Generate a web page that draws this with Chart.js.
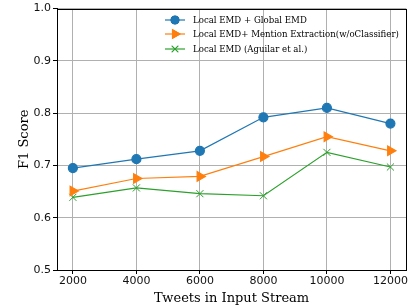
<!DOCTYPE html>
<html>
<head>
<meta charset="utf-8">
<script src="https://cdn.jsdelivr.net/npm/chart.js@4.4.1/dist/chart.umd.min.js"></script>
<style>
    html, body { margin: 0; padding: 0; background: #fff; }
    #wrap { width: 413px; height: 306px; }
</style>
</head>
<body>
<div id="wrap"><canvas id="chart"></canvas></div>
<script>
// data
const tweets = [2000, 4000, 6000, 8000, 10000, 12000];
const localGlobal = [0.695, 0.712, 0.728, 0.792, 0.810, 0.780];
const mentionExtraction = [0.651, 0.675, 0.679, 0.717, 0.755, 0.728];
const localOnly = [0.639, 0.657, 0.646, 0.642, 0.725, 0.697];
const yTicks = [0.5, 0.6, 0.7, 0.8, 0.9, 1.0];
const seriesNames = [
    'Local EMD + Global EMD',
    'Local EMD+ Mention Extraction(w/oClassifier)',
    'Local EMD (Aguilar et al.)'
];

const serif = "'DejaVu Serif', serif";
const sans = "'DejaVu Sans', sans-serif";

function points(values) {
    return tweets.map((x, i) => ({ x: x, y: values[i] }));
}

// box round the plot, like matplotlib
const frame = {
    id: 'frame',
    afterDatasetsDraw(chart) {
        const a = chart.chartArea;
        const ctx = chart.ctx;
        ctx.save();
        ctx.strokeStyle = '#000';
        ctx.lineWidth = 1;
        ctx.strokeRect(Math.round(a.left) + 0.5, Math.round(a.top) + 0.5,
            Math.round(a.right - a.left), Math.round(a.bottom - a.top));
        ctx.restore();
    }
};

// legend drawn inside the plot, top right
const innerLegend = {
    id: 'innerLegend',
    afterDraw(chart) {
        const ctx = chart.ctx;
        const x0 = 165, rows = [20, 34, 49];
        ctx.save();
        chart.data.datasets.forEach((ds, i) => {
            const y = rows[i];
            ctx.strokeStyle = ds.borderColor;
            ctx.lineWidth = 1.2;
            ctx.beginPath();
            ctx.moveTo(x0, y);
            ctx.lineTo(x0 + 20, y);
            ctx.stroke();
            Chart.helpers.drawPoint(ctx, {
                pointStyle: ds.pointStyle,
                rotation: ds.pointRotation || 0,
                radius: ds.pointRadius - 0.5,
                borderWidth: ds.pointBorderWidth || 1
            }, x0 + 10, y);
            ctx.fillStyle = ds.pointBackgroundColor;
            ctx.strokeStyle = ds.pointBorderColor;
            ctx.fill();
            ctx.lineWidth = ds.pointBorderWidth || 1;
            ctx.stroke();
            ctx.fillStyle = '#000';
            ctx.font = '8.6px ' + serif;
            ctx.textBaseline = 'middle';
            ctx.fillText(ds.label, x0 + 28, y + 0.5);
        });
        ctx.restore();
    }
};

new Chart(document.getElementById('chart'), {
    type: 'line',
    data: {
        datasets: [
            {
                label: seriesNames[0],
                data: points(localGlobal),
                borderColor: '#1f77b4',
                backgroundColor: '#1f77b4',
                pointBackgroundColor: '#1f77b4',
                pointBorderColor: '#1f77b4',
                pointStyle: 'circle',
                pointRadius: 4.5,
                borderWidth: 1.2
            },
            {
                label: seriesNames[1],
                data: points(mentionExtraction),
                borderColor: '#ff7f0e',
                backgroundColor: '#ff7f0e',
                pointBackgroundColor: '#ff7f0e',
                pointBorderColor: '#ff7f0e',
                pointStyle: 'triangle',
                pointRotation: 90,
                pointRadius: 5.5,
                borderWidth: 1.2
            },
            {
                label: seriesNames[2],
                data: points(localOnly),
                borderColor: '#2ca02c',
                backgroundColor: '#2ca02c',
                pointBackgroundColor: '#2ca02c',
                pointBorderColor: '#2ca02c',
                pointStyle: 'crossRot',
                pointRadius: 5,
                pointBorderWidth: 1,
                borderWidth: 1.2
            }
        ]
    },
    options: {
        responsive: true,
        maintainAspectRatio: false,
        animation: false,
        layout: { padding: { top: 7, right: 3, left: 17, bottom: 0 } },
        plugins: {
            legend: { display: false },
            tooltip: { enabled: false }
        },
        scales: {
            x: {
                type: 'linear',
                min: 1500,
                max: 12500,
                afterBuildTicks: (s) => { s.ticks = tweets.map(v => ({ value: v })); },
                afterFit: (s) => { s.height = 36; },
                grid: { color: '#b0b0b0', lineWidth: 1, tickColor: '#000', tickLength: 4 },
                border: { color: '#000', width: 1 },
                ticks: {
                    color: '#111',
                    font: { family: sans, size: 11 },
                    padding: 1,
                    maxRotation: 0,
                    callback: (v) => String(v)
                },
                title: {
                    display: true,
                    text: 'Tweets in Input Stream',
                    color: '#000',
                    font: { family: serif, size: 13 },
                    padding: { top: 0, bottom: 0 }
                }
            },
            y: {
                min: 0.5,
                max: 1.0,
                afterBuildTicks: (s) => { s.ticks = yTicks.map(v => ({ value: v })); },
                afterFit: (s) => { s.width = 40; },
                grid: { color: '#b0b0b0', lineWidth: 1, tickColor: '#000', tickLength: 4 },
                border: { color: '#000', width: 1 },
                ticks: {
                    color: '#111',
                    font: { family: sans, size: 11 },
                    padding: 2,
                    callback: (v) => v.toFixed(1)
                },
                title: {
                    display: true,
                    text: 'F1 Score',
                    color: '#000',
                    font: { family: serif, size: 13 },
                    padding: { top: 0, bottom: 0 }
                }
            }
        }
    },
    plugins: [frame, innerLegend]
});
</script>
</body>
</html>
